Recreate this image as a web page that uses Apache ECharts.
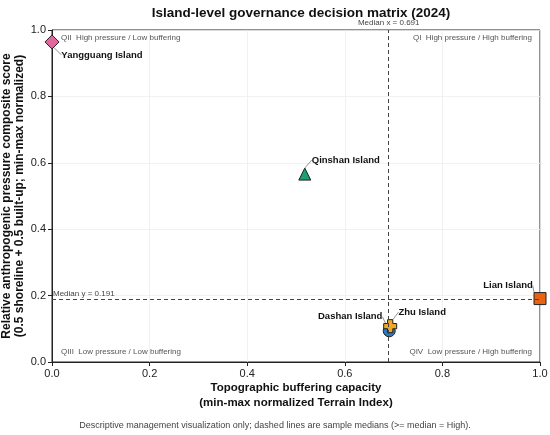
<!DOCTYPE html>
<html>
<head>
<meta charset="UTF-8">
<title>Island-level governance decision matrix</title>
<script src="https://cdn.jsdelivr.net/npm/echarts@6/dist/echarts.min.js"></script>
<style>
  html, body { margin: 0; padding: 0; background: #fff; }
  #chart { width: 550px; height: 435px; }
</style>
</head>
<body>
<div id="chart"></div>
<script>
// island data
var islands = ['Yangguang Island', 'Qinshan Island', 'Dashan Island', 'Zhu Island', 'Lian Island'];
var buffering = [0.0, 0.518, 0.691, 0.693, 1.0];
var pressure = [0.964, 0.566, 0.094, 0.108, 0.191];
var medianX = 0.691;
var medianY = 0.191;

var colors = ['#e2679f', '#1b9e77', '#2a7ab8', '#f2a625', '#e8620f'];
var plusPath = 'path://M3,0 L7,0 L7,3 L10,3 L10,7 L7,7 L7,10 L3,10 L3,7 L0,7 L0,3 L3,3 Z';
var symbols = ['diamond', 'triangle', 'circle', plusPath, 'rect'];
var sizes = [14, 12, 12, 13, 12];
var offsets = [[50, 13], [41, -14], [-39, -14], [32, -14], [-32, -13]];

var font = 'Liberation Sans, Arial, sans-serif';

var series = islands.map(function (name, i) {
  return {
    name: name,
    type: 'scatter',
    clip: false,
    symbol: symbols[i],
    symbolSize: sizes[i],
    z: i === 3 ? 4 : 3,
    itemStyle: { color: colors[i], borderColor: '#222', borderWidth: 1, opacity: 1 },
    data: [[buffering[i], pressure[i]]],
    label: {
      show: true,
      formatter: name,
      position: 'inside',
      fontFamily: font,
      fontWeight: 'bold',
      fontSize: 9.5,
      color: '#111'
    },
    labelLayout: { dx: offsets[i][0], dy: offsets[i][1] },
    labelLine: { show: true, lineStyle: { color: '#777', width: 0.8 } }
  };
});

series.push({
  type: 'scatter',
  data: [],
  markLine: {
    silent: true,
    symbol: 'none',
    lineStyle: { type: [4, 3], color: '#444', width: 1 },
    label: { fontFamily: font, fontSize: 8, color: '#444' },
    data: [
      { xAxis: medianX, label: { position: 'end', formatter: 'Median x = ' + medianX.toFixed(3), distance: 3 } },
      { yAxis: medianY, label: { position: 'insideStartTop', formatter: 'Median y = ' + medianY.toFixed(3), distance: 1 } }
    ]
  }
});

var chart = echarts.init(document.getElementById('chart'), null, { renderer: 'canvas' });

var quadStyle = { fontFamily: font, fontSize: 8, fill: '#555' };
function quadText(text, top, align) {
  var g = { type: 'text', z: 10, style: Object.assign({ text: text }, quadStyle), top: top };
  if (align === 'right') { g.right = 18; } else { g.left = 61; }
  return g;
}

chart.setOption({
  backgroundColor: '#fff',
  animation: false,
  title: {
    text: 'Island-level governance decision matrix (2024)',
    left: 296,
    textAlign: 'center',
    top: 1,
    textStyle: { fontFamily: font, fontWeight: 'bold', fontSize: 13.5, color: '#111' }
  },
  grid: {
    left: 52, right: 10, top: 30, bottom: 73,
    outerBoundsMode: 'none',
    containLabel: false,
    show: true, borderColor: '#222', borderWidth: 1
  },
  xAxis: {
    type: 'value',
    min: 0, max: 1, interval: 0.2,
    name: 'Topographic buffering capacity\n(min-max normalized Terrain Index)',
    nameLocation: 'middle',
    nameGap: 18,
    nameMoveOverlap: false,
    nameTextStyle: { fontFamily: font, fontWeight: 'bold', fontSize: 11.5, color: '#111', lineHeight: 15, verticalAlign: 'top' },
    axisLine: { show: true, lineStyle: { color: '#222' } },
    axisTick: { show: true, length: 4, lineStyle: { color: '#222' } },
    axisLabel: { fontFamily: font, fontSize: 11, color: '#222', margin: 6, formatter: function (v) { return v.toFixed(1); } },
    splitLine: { show: true, lineStyle: { color: '#eee', width: 0.8 } }
  },
  yAxis: {
    type: 'value',
    min: 0, max: 1, interval: 0.2,
    name: 'Relative anthropogenic pressure composite score\n(0.5 shoreline + 0.5 built-up; min-max normalized)',
    nameLocation: 'middle',
    nameGap: 26,
    nameMoveOverlap: false,
    nameTextStyle: { fontFamily: font, fontWeight: 'bold', fontSize: 12, color: '#111', lineHeight: 13 },
    axisLine: { show: true, lineStyle: { color: '#222' } },
    axisTick: { show: true, length: 4, lineStyle: { color: '#222' } },
    axisLabel: { fontFamily: font, fontSize: 11, color: '#222', margin: 6, formatter: function (v) { return v.toFixed(1); } },
    splitLine: { show: true, lineStyle: { color: '#eee', width: 0.8 } }
  },
  graphic: [
    quadText('QII  High pressure / Low buffering', 34, 'left'),
    quadText('QI  High pressure / High buffering', 34, 'right'),
    quadText('QIII  Low pressure / Low buffering', 348, 'left'),
    quadText('QIV  Low pressure / High buffering', 348, 'right'),
    {
      type: 'text', left: 'center', top: 421,
      style: { text: 'Descriptive management visualization only; dashed lines are sample medians (>= median = High).', fontFamily: font, fontSize: 9, fill: '#444' }
    }
  ],
  series: series
});
</script>
</body>
</html>
